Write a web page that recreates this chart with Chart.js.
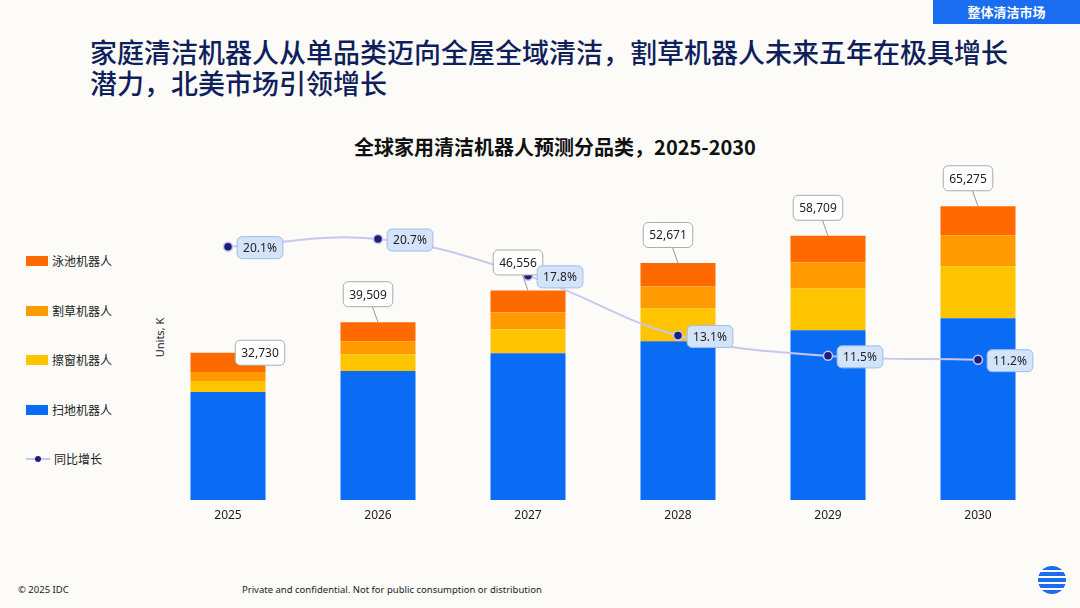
<!DOCTYPE html>
<html lang="zh-CN">
<head>
<meta charset="UTF-8" />
<title>全球家用清洁机器人预测分品类</title>
<script src="https://cdn.jsdelivr.net/npm/chart.js"></script>
<style>
  body { margin: 0; width: 1080px; height: 608px; background: #fcfbf8; position: relative; overflow: hidden;
         font-family: "Noto Sans CJK SC", "Noto Sans", sans-serif; }
  #tag { position: absolute; right: 0; top: 0; width: 147px; height: 24px; background: #1a6cf0; color: #fff;
         font-size: 13px; font-weight: bold; line-height: 24px; text-align: center; }
  h1 { position: absolute; left: 90px; top: 36px; margin: 0; font-size: 27px; font-weight: 500; line-height: 31px; color: #0f1f5c; }
  #ctitle { position: absolute; left: 0; width: 1110px; top: 132px; text-align: center; font-size: 20px; font-weight: bold; color: #111; }
  #ytitle { position: absolute; left: 140px; top: 330px; transform: rotate(-90deg); font-size: 11px; color: #222; font-family: "Noto Sans", sans-serif; }
  .leg { position: absolute; left: 26px; font-size: 12px; color: #222; display: flex; align-items: center; }
  .leg i { display: inline-block; width: 22px; height: 10px; margin-right: 4px; }
  .foot { position: absolute; top: 583px; font-size: 9.5px; color: #222; font-family: "Noto Sans", sans-serif; }
  canvas { position: absolute; left: 0; top: 0; }
  #logo { position: absolute; left: 1038px; top: 566px; width: 28px; height: 28px; border-radius: 50%;
          background: repeating-linear-gradient(#1a6cf0 0 4px, #fcfbf8 4px 6px); }
</style>
</head>
<body>
<div id="tag">整体清洁市场</div>
<h1>家庭清洁机器人从单品类迈向全屋全域清洁，割草机器人未来五年在极具增长<br>潜力，北美市场引领增长</h1>
<div id="ctitle">全球家用清洁机器人预测分品类，2025-2030</div>
<div id="ytitle">Units, K</div>
<div class="leg" style="top:252px"><i style="background:#ff6a00"></i>泳池机器人</div>
<div class="leg" style="top:302px"><i style="background:#ff9a00"></i>割草机器人</div>
<div class="leg" style="top:351px"><i style="background:#ffc400"></i>擦窗机器人</div>
<div class="leg" style="top:401px"><i style="background:#0a6cf5"></i>扫地机器人</div>
<div class="leg" style="top:450px"><svg width="24" height="10" style="margin-right:4px"><line x1="0" y1="5" x2="24" y2="5" stroke="#c7c4ee" stroke-width="2"/><circle cx="12" cy="5" r="3" fill="#1c1f7a"/></svg>同比增长</div>
<div class="foot" style="left:18px">© 2025 IDC</div>
<div class="foot" style="left:242px">Private and confidential. Not for public consumption or distribution</div>
<div id="logo"></div>
<canvas id="c" width="1080" height="608"></canvas>
<script>
const years = ["2025", "2026", "2027", "2028", "2029", "2030"];
const floorRobot = [24000, 28640, 32630, 35300, 37740, 40400];
const windowRobot = [2440, 3770, 5330, 7330, 9320, 11540];
const mowerRobot = [2000, 2880, 3770, 4880, 5770, 6880];
const poolRobot = [4290, 4219, 4826, 5161, 5879, 6455];
const totals = ["32,730", "39,509", "46,556", "52,671", "58,709", "65,275"];
const growth = [20.1, 20.7, 17.8, 13.1, 11.5, 11.2];

// where each total label sits relative to its bar top (px)
const totalOffsets = [[32, 0], [-10, -28], [-10, -28], [-10, -28], [-10, -28], [-10, -28]];

function box(ctx, cx, cy, text, fill, stroke, h) {
  ctx.font = "12px 'Noto Sans', sans-serif";
  const w = ctx.measureText(text).width + 12;
  ctx.beginPath();
  ctx.roundRect(cx - w / 2, cy - h / 2, w, h, 5);
  ctx.fillStyle = fill; ctx.fill();
  ctx.strokeStyle = stroke; ctx.lineWidth = 1; ctx.stroke();
  ctx.fillStyle = "#222"; ctx.textAlign = "center"; ctx.textBaseline = "middle";
  ctx.fillText(text, cx, cy + 1);
}

const labels = {
  id: "labels",
  afterDatasetsDraw(chart) {
    const ctx = chart.ctx, x = chart.scales.x, y = chart.scales.y, y2 = chart.scales.y2;
    ctx.save();
    years.forEach((yr, i) => {
      const xc = x.getPixelForValue(i);
      ctx.font = "12px 'Noto Sans', sans-serif";
      ctx.fillStyle = "#222"; ctx.textAlign = "center"; ctx.textBaseline = "top";
      ctx.fillText(yr, xc, chart.chartArea.bottom + 10);
      const sum = floorRobot[i] + windowRobot[i] + mowerRobot[i] + poolRobot[i];
      const top = y.getPixelForValue(sum);
      const [dx, dy] = totalOffsets[i];
      const lx = xc + dx, ly = top + dy;
      ctx.strokeStyle = "#999"; ctx.beginPath();
      ctx.moveTo(i === 0 ? xc + 20 : xc, top); ctx.lineTo(lx, ly); ctx.stroke();
      box(ctx, lx, ly, totals[i], "#fff", "#aaa", 25);
      const gy = y2.getPixelForValue(growth[i]);
      box(ctx, xc + 32, gy + 1, growth[i].toFixed(1) + "%", "#d3e3fa", "#9fbde8", 22);
    });
    ctx.restore();
  }
};

new Chart(document.getElementById("c"), {
  data: {
    labels: years,
    datasets: [
      { type: "line", data: growth, yAxisID: "y2", borderColor: "#c9c6ef", borderWidth: 2, tension: 0.4,
        pointRadius: 4.5, pointBackgroundColor: "#1c1f7a", pointBorderColor: "#c9c6ef", pointBorderWidth: 1.5, order: 0 },
      { type: "bar", data: floorRobot, backgroundColor: "#0a6cf5", order: 1 },
      { type: "bar", data: windowRobot, backgroundColor: "#ffc400", order: 1 },
      { type: "bar", data: mowerRobot, backgroundColor: "#ff9a00", order: 1 },
      { type: "bar", data: poolRobot, backgroundColor: "#ff6a00", order: 1 }
    ]
  },
  options: {
    responsive: false, animation: false,
    layout: { padding: { left: 153, right: 27, top: 140, bottom: 108 } },
    plugins: { legend: { display: false }, tooltip: { enabled: false } },
    datasets: { bar: { barPercentage: 0.5, categoryPercentage: 1 } },
    scales: {
      x: { display: false, stacked: true },
      y: { display: false, stacked: true, min: 0, max: 80000 },
      y2: { display: false, min: 0.15, max: 28.5 }
    }
  },
  plugins: [labels]
});
</script>
</body>
</html>
